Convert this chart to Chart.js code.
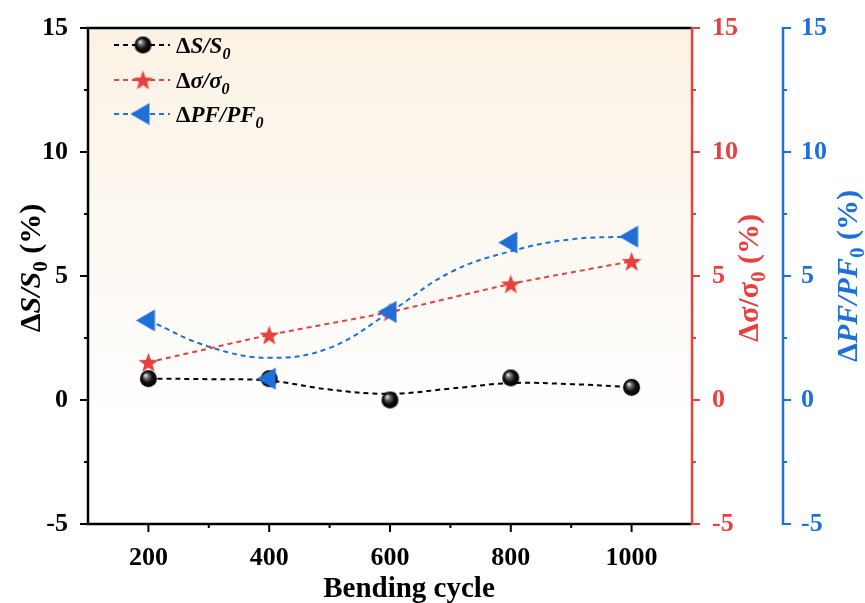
<!DOCTYPE html>
<html>
<head>
<meta charset="utf-8">
<script src="https://cdn.jsdelivr.net/npm/chart.js@4.4.1/dist/chart.umd.min.js"></script>
<style>
  html, body { margin: 0; padding: 0; background: #fff; }
  #wrap { width: 865px; height: 603px; }
</style>
</head>
<body>
<div id="wrap"><canvas id="c" width="865" height="603"></canvas></div>
<script>
// ── Data ────────────────────────────────────────────────────
const cycles = [200, 400, 600, 800, 1000];
const dS = [0.86, 0.86, 0.0, 0.89, 0.51];
const dSigma = [1.52, 2.62, 3.55, 4.68, 5.59];
const dPF = [3.21, 0.86, 3.55, 6.35, 6.59];

// smoothed fit lines as drawn in the figure
const fitCycles = [200, 300, 400, 500, 600, 700, 800, 900, 1000];
const dSFit = [0.86, 0.84, 0.78, 0.42, 0.25, 0.46, 0.68, 0.64, 0.52];
const dPFFit = [3.21, 2.15, 1.7, 2.1, 3.55, 5.15, 6.0, 6.48, 6.59];

const yTickLabels = [-5, 0, 5, 10, 15];
const xTickLabels = [200, 400, 600, 800, 1000];

const RED = '#e8403f';
const BLUE = '#1e6fd9';
const SERIF = '"Liberation Serif", "Times New Roman", serif';

const xy = (xs, ys) => xs.map((x, i) => ({ x, y: ys[i] }));

// ── Marker images ───────────────────────────────────────────
function sphereImg(r) {
  const c = document.createElement('canvas');
  c.width = c.height = r * 2 + 2;
  const g = c.getContext('2d');
  const cx = r + 1;
  const grad = g.createRadialGradient(cx - r * 0.35, cx - r * 0.4, 0.5, cx, cx, r);
  grad.addColorStop(0, '#e8e8e8');
  grad.addColorStop(0.25, '#707070');
  grad.addColorStop(0.6, '#111');
  grad.addColorStop(1, '#000');
  g.fillStyle = grad;
  g.beginPath();
  g.arc(cx, cx, r, 0, Math.PI * 2);
  g.fill();
  return c;
}

function starImg(R, r, color) {
  const c = document.createElement('canvas');
  c.width = c.height = R * 2 + 2;
  const g = c.getContext('2d');
  const cx = R + 1, cy = R + 2;
  g.fillStyle = color;
  g.beginPath();
  for (let i = 0; i < 10; i++) {
    const rad = i % 2 === 0 ? R : r;
    const a = -Math.PI / 2 + i * Math.PI / 5;
    g.lineTo(cx + rad * Math.cos(a), cy + rad * Math.sin(a));
  }
  g.closePath();
  g.fill();
  return c;
}

function leftTriImg(color) {
  const c = document.createElement('canvas');
  c.width = 26; c.height = 23;
  const g = c.getContext('2d');
  g.fillStyle = color;
  g.beginPath();
  g.moveTo(0.5, 11.5);
  g.lineTo(19.5, 0.5);
  g.lineTo(19.5, 22.5);
  g.closePath();
  g.fill();
  return c;
}

const SPHERE = sphereImg(8.5);
const STAR = starImg(10.5, 4.3, RED);
const TRI = leftTriImg(BLUE);

// ── Rich text helper (mixed italic / subscript) ─────────────
function richWidth(ctx, parts) {
  let w = 0;
  parts.forEach(p => { ctx.font = p.f; w += ctx.measureText(p.t).width; });
  return w;
}
function drawRich(ctx, parts, x, y, color, align) {
  let cx = align === 'center' ? x - richWidth(ctx, parts) / 2 : x;
  ctx.fillStyle = color;
  ctx.textBaseline = 'alphabetic';
  ctx.textAlign = 'left';
  parts.forEach(p => {
    ctx.font = p.f;
    ctx.fillText(p.t, cx, y + (p.dy || 0));
    cx += ctx.measureText(p.t).width;
  });
}
const F = (size, style) => `${style || ''} bold ${size}px ${SERIF}`;

// ── Plugins ─────────────────────────────────────────────────
const background = {
  id: 'background',
  beforeDraw(chart) {
    const { ctx, chartArea: a } = chart;
    ctx.save();
    ctx.fillStyle = '#fff';
    ctx.fillRect(0, 0, chart.width, chart.height);
    const grad = ctx.createLinearGradient(0, a.top, 0, a.bottom);
    grad.addColorStop(0, '#fbf2e4');
    grad.addColorStop(0.45, '#fdf9f3');
    grad.addColorStop(0.8, '#ffffff');
    ctx.fillStyle = grad;
    ctx.fillRect(a.left, a.top, a.right - a.left, a.bottom - a.top);
    ctx.restore();
  },
};

const axesDeco = {
  id: 'axesDeco',
  afterDraw(chart) {
    const { ctx, chartArea: a, scales } = chart;
    ctx.save();
    ctx.lineCap = 'butt';

    // frame
    ctx.strokeStyle = '#000';
    ctx.lineWidth = 2.5;
    ctx.beginPath();
    ctx.moveTo(a.right, a.top); ctx.lineTo(a.left, a.top);
    ctx.lineTo(a.left, a.bottom); ctx.lineTo(a.right, a.bottom);
    ctx.stroke();

    // x ticks
    ctx.lineWidth = 2;
    for (let v = 200; v <= 1000; v += 100) {
      const px = scales.x.getPixelForValue(v);
      const len = v % 200 === 0 ? 8 : 4;
      ctx.beginPath(); ctx.moveTo(px, a.bottom); ctx.lineTo(px, a.bottom + len); ctx.stroke();
    }
    // left y ticks
    for (let v = -5; v <= 15; v += 2.5) {
      const py = scales.y.getPixelForValue(v);
      const len = v % 5 === 0 ? 8 : 4;
      ctx.beginPath(); ctx.moveTo(a.left, py); ctx.lineTo(a.left - len, py); ctx.stroke();
    }

    // right axes
    [[scales.y2, RED], [scales.y3, BLUE]].forEach(([s, col]) => {
      ctx.strokeStyle = col;
      ctx.lineWidth = 2.5;
      ctx.beginPath(); ctx.moveTo(s.left, a.top - 1); ctx.lineTo(s.left, a.bottom + 1); ctx.stroke();
      ctx.lineWidth = 2;
      for (let v = -5; v <= 15; v += 2.5) {
        const py = s.getPixelForValue(v);
        const len = v % 5 === 0 ? 8 : 4;
        ctx.beginPath(); ctx.moveTo(s.left, py); ctx.lineTo(s.left + len, py); ctx.stroke();
      }
    });

    // axis titles
    drawRich(ctx, [{ t: 'Bending cycle', f: F(29) }], 409, 597, '#000', 'center');

    const rot = (cx, cy, parts, col) => {
      ctx.save();
      ctx.translate(cx, cy);
      ctx.rotate(-Math.PI / 2);
      drawRich(ctx, parts, 0, 10, col, 'center');
      ctx.restore();
    };
    rot(30, 268, [
      { t: 'Δ', f: F(30) }, { t: 'S/S', f: F(30, 'italic') },
      { t: '0', f: F(21), dy: 7 }, { t: ' (%)', f: F(30) },
    ], '#000');
    rot(748, 278, [
      { t: 'Δσ/σ', f: F(30) }, { t: '0', f: F(21), dy: 7 }, { t: ' (%)', f: F(30) },
    ], RED);
    rot(847, 276, [
      { t: 'Δ', f: F(30) }, { t: 'PF/PF', f: F(30, 'italic') },
      { t: '0', f: F(21), dy: 7 }, { t: ' (%)', f: F(30) },
    ], BLUE);

    // legend
    const rows = [
      { y: 45, col: '#000', img: SPHERE, parts: [{ t: 'Δ', f: F(23) }, { t: 'S/S', f: F(23, 'italic') }, { t: '0', f: F(16, 'italic'), dy: 6 }] },
      { y: 80, col: RED, img: STAR, parts: [{ t: 'Δ', f: F(23) }, { t: 'σ/σ', f: F(23, 'italic') }, { t: '0', f: F(16, 'italic'), dy: 6 }] },
      { y: 114, col: BLUE, img: TRI, parts: [{ t: 'Δ', f: F(23) }, { t: 'PF/PF', f: F(23, 'italic') }, { t: '0', f: F(16, 'italic'), dy: 6 }] },
    ];
    rows.forEach(r => {
      ctx.strokeStyle = r.col;
      ctx.lineWidth = 2;
      ctx.setLineDash([5, 4]);
      ctx.beginPath(); ctx.moveTo(114, r.y); ctx.lineTo(170, r.y); ctx.stroke();
      ctx.setLineDash([]);
      ctx.drawImage(r.img, 143 - r.img.width / 2, r.y - r.img.height / 2);
      drawRich(ctx, r.parts, 176, r.y + 8, '#000', 'left');
    });
    ctx.restore();
  },
};

// ── Chart ───────────────────────────────────────────────────
const lineBase = {
  pointRadius: 0,
  borderWidth: 2,
  borderDash: [5, 4],
  fill: false,
  order: 10,
};

const yScale = (pos, color, width, padding, weight) => ({
  type: 'linear',
  position: pos,
  min: -5,
  max: 15,
  weight,
  grid: { display: false, drawOnChartArea: false },
  border: { display: false },
  ticks: {
    stepSize: 2.5,
    autoSkip: false,
    color,
    padding,
    font: { family: SERIF, size: 26, weight: 'bold' },
    callback: v => (yTickLabels.includes(v) ? v : ''),
  },
  afterFit: s => { s.width = width; },
});

new Chart(document.getElementById('c'), {
  type: 'line',
  data: {
    datasets: [
      { ...lineBase, data: xy(fitCycles, dSFit), borderColor: '#000', tension: 0.4, yAxisID: 'y' },
      { ...lineBase, data: xy(cycles, dSigma), borderColor: RED, tension: 0.2, yAxisID: 'y2' },
      { ...lineBase, data: xy(fitCycles, dPFFit), borderColor: BLUE, tension: 0.4, yAxisID: 'y3' },
      { data: xy(cycles, dPF), showLine: false, pointStyle: TRI, pointRadius: 11, yAxisID: 'y3', order: 1 },
      { data: xy(cycles, dS), showLine: false, pointStyle: SPHERE, pointRadius: 9, yAxisID: 'y', order: 2 },
      { data: xy(cycles, dSigma), showLine: false, pointStyle: STAR, pointRadius: 10, yAxisID: 'y2', order: 3 },
    ],
  },
  options: {
    responsive: false,
    animation: false,
    devicePixelRatio: 1,
    layout: { padding: { top: 28, left: 0, right: 0, bottom: 0 } },
    plugins: { legend: { display: false }, tooltip: { enabled: false } },
    scales: {
      x: {
        type: 'linear',
        min: 100,
        max: 1100,
        grid: { display: false },
        border: { display: false },
        ticks: {
          stepSize: 100,
          autoSkip: false,
          maxRotation: 0,
          color: '#000',
          padding: 11,
          font: { family: SERIF, size: 26, weight: 'bold' },
          callback: v => (xTickLabels.includes(v) ? v : ''),
        },
        afterFit: s => { s.height = 79; },
      },
      y: yScale('left', '#000', 88, 12, 0),
      y2: yScale('right', RED, 91, 12, 0),
      y3: yScale('right', BLUE, 82, 10, 1),
    },
  },
  plugins: [background, axesDeco],
});
</script>
</body>
</html>
